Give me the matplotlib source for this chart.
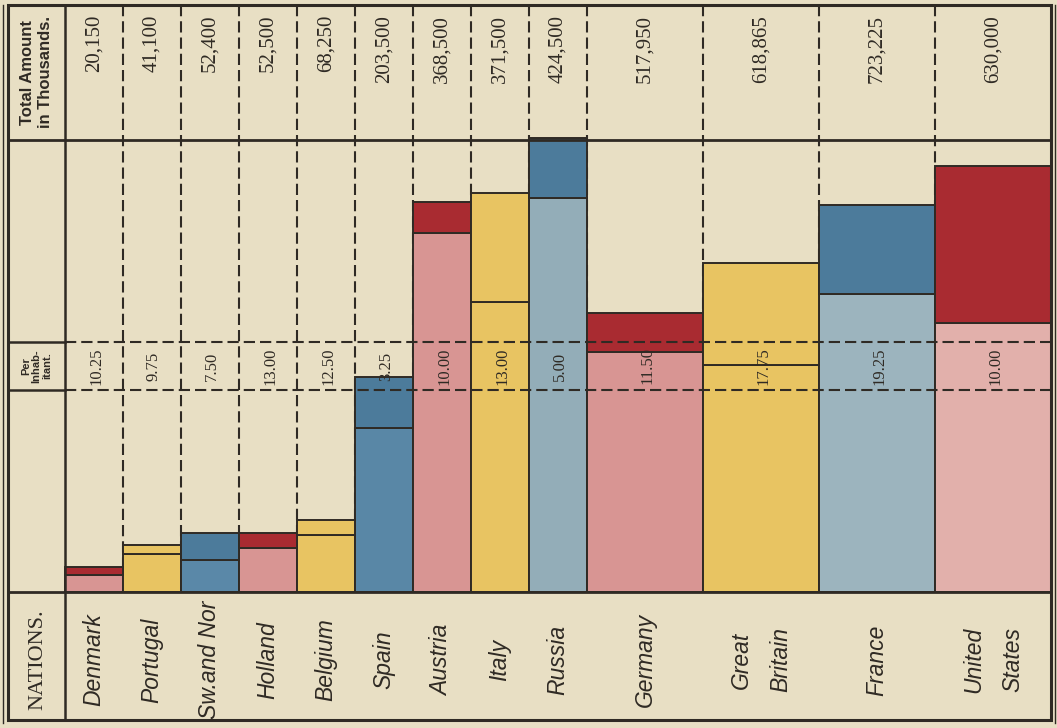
import matplotlib
matplotlib.use("Agg")
import matplotlib.pyplot as plt
from matplotlib.patches import Rectangle

# ---- data -------------------------------------------------------------
nations = ["Denmark", "Portugal", "Sw.and Nor", "Holland", "Belgium", "Spain",
           "Austria", "Italy", "Russia", "Germany", "Great\nBritain", "France",
           "United\nStates"]
total_labels = ["20,150", "41,100", "52,400", "52,500", "68,250", "203,500",
                "368,500", "371,500", "424,500", "517,950", "618,865",
                "723,225", "630,000"]
per_inhabitant = ["10.25", "9.75", "7.50", "13.00", "12.50", "3.25", "10.00",
                  "13.00", "5.00", "11.50", "17.75", "19.25", "10.00"]
# relative column widths (population scale)
col_width = [1, 1, 1, 1, 1, 1, 1, 1, 1, 2, 2, 2, 2]
# bar heights in scale units: full bar and its lower (light) portion
bar_total = [25, 47, 59, 59, 72, 215, 390, 399, 454, 279, 329, 387, 426]
bar_lower = [17, 38, 32, 44, 57, 164, 359, 290, 394, 240, 227, 298, 269]

RED, PINK = "#a92b31", "#d89593"
YEL = "#e8c462"
BLUE, LBLUE = "#4c7b9b", "#93adb8"
upper_col = [RED, YEL, BLUE, RED, YEL, BLUE, RED, YEL, BLUE, RED, YEL, BLUE, RED]
lower_col = [PINK, YEL, "#5a88a8", PINK, YEL, "#5987a6", PINK, YEL, LBLUE,
             PINK, YEL, "#9cb4be", "#e2b0ab"]

PAPER = "#e8dfc4"
INK = "#2f2a24"

# ---- layout (pixels) --------------------------------------------------
W, H = 1057, 728
X_LEFT, X_SPLIT, X_RIGHT = 8, 65, 1051
Y_TOP, Y_HEAD, Y_BASE, Y_BOT = 5, 140, 592, 720
Y_PI0, Y_PI1 = 342, 390

fig = plt.figure(figsize=(W / 100, H / 100), dpi=100)
fig.patch.set_facecolor(PAPER)

under = fig.add_axes([0, 0, 1, 1], zorder=0)
under.set_xlim(0, W); under.set_ylim(H, 0); under.axis("off")

chart = fig.add_axes([X_SPLIT / W, (H - Y_BASE) / H,
                      (X_RIGHT - X_SPLIT) / W, (Y_BASE - Y_HEAD) / H], zorder=1)
chart.set_xlim(0, sum(col_width)); chart.set_ylim(0, Y_BASE - Y_HEAD)
chart.axis("off"); chart.patch.set_alpha(0)

over = fig.add_axes([0, 0, 1, 1], zorder=2)
over.set_xlim(0, W); over.set_ylim(H, 0); over.axis("off"); over.patch.set_alpha(0)

# column edges in chart units and in pixels
lefts = [sum(col_width[:i]) for i in range(len(col_width))]
unit_px = (X_RIGHT - X_SPLIT) / sum(col_width)
edges_px = [X_SPLIT + (l) * unit_px for l in lefts] + [X_RIGHT]
centers_px = [(edges_px[i] + edges_px[i + 1]) / 2 for i in range(len(nations))]

dash = (0, (5.4, 2.4))

# vertical dashed column rules
for x in edges_px[1:-1]:
    under.plot([x, x], [Y_TOP, Y_BASE], color=INK, lw=1.5, linestyle=dash)

# ---- bars --------------------------------------------------------------
upper_h = [t - l for t, l in zip(bar_total, bar_lower)]
chart.bar(lefts, bar_lower, width=col_width, align="edge", color=lower_col,
          edgecolor=INK, linewidth=1.4, clip_on=False)
chart.bar(lefts, upper_h, bottom=bar_lower, width=col_width, align="edge",
          color=upper_col, edgecolor=INK, linewidth=1.4, clip_on=False)

# ---- rules over the bars ----------------------------------------------
for y in (Y_PI0, Y_PI1):
    over.plot([X_SPLIT, X_RIGHT], [y, y], color=INK, lw=1.5, linestyle=dash)
    over.plot([X_LEFT, X_SPLIT], [y, y], color=INK, lw=1.8)
for y in (Y_HEAD, Y_BASE):
    over.plot([X_LEFT, X_RIGHT], [y, y], color=INK, lw=2.0)
over.plot([X_SPLIT, X_SPLIT], [Y_TOP, Y_BOT], color=INK, lw=1.8)
over.add_patch(Rectangle((X_LEFT, Y_TOP), X_RIGHT - X_LEFT, Y_BOT - Y_TOP,
                         fill=False, edgecolor=INK, lw=2.2))
over.plot([3, 3], [Y_TOP, Y_BOT + 3], color=INK, lw=1.0)
over.plot([1055, 1055], [Y_TOP, Y_BOT + 3], color=INK, lw=1.0)

# ---- texts --------------------------------------------------------------
serif = ["Liberation Serif", "DejaVu Serif"]
sans = ["Liberation Sans", "DejaVu Sans"]

over.text((X_LEFT + X_SPLIT) / 2, (Y_TOP + Y_HEAD) / 2,
          "Total Amount\nin Thousands.", rotation=90, ha="center", va="center",
          family=sans, fontweight="bold", fontsize=12, linespacing=1.25,
          color=INK)
over.text((X_LEFT + X_SPLIT) / 2, (Y_PI0 + Y_PI1) / 2, "Per\nInhab-\nitant.",
          rotation=90, ha="center", va="center", family=sans,
          fontweight="bold", fontsize=8, linespacing=1.05, color=INK)
over.text((X_LEFT + X_SPLIT) / 2 + 1, (Y_BASE + Y_BOT) / 2 + 4, "NATIONS.",
          rotation=90, ha="center", va="center", family=serif, fontsize=16,
          color=INK)

for cx, tl, pi, nm in zip(centers_px, total_labels, per_inhabitant, nations):
    over.text(cx, 15, tl, rotation=90, ha="center", va="top", family=serif,
              fontsize=15, color=INK)
    over.text(cx + 2, (Y_PI0 + Y_PI1) / 2, pi, rotation=90, ha="center",
              va="center", family=serif, fontsize=12, color=INK)
    over.text(cx, 660, nm, rotation=90, ha="center", va="center",
              family=sans, style="italic", fontsize=16.5, linespacing=1.9,
              color=INK)

fig.savefig("out.png", dpi=100, facecolor=PAPER)
